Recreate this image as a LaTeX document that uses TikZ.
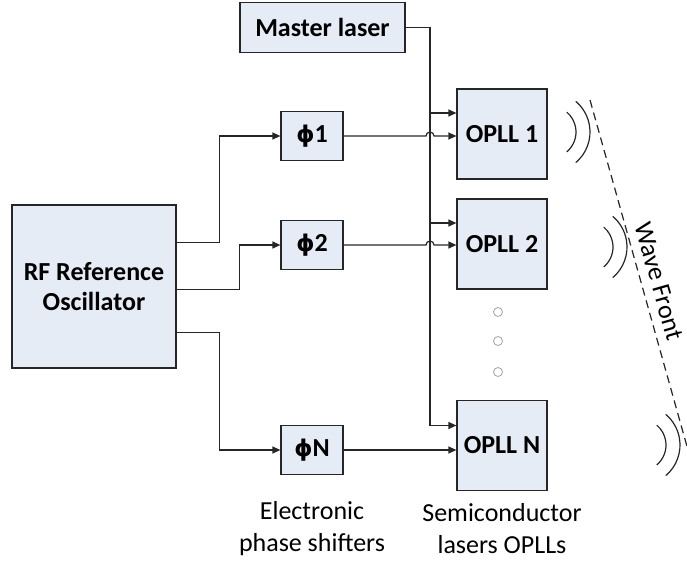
\documentclass[tikz,border=0pt]{standalone}
\usepackage{fontspec}
\setmainfont{Carlito}
\newfontfamily\phifont{DejaVu Sans}
\usetikzlibrary{arrows.meta, positioning, calc}

\begin{document}
\begin{tikzpicture}[
    x=1pt, y=-1pt,
    >={Triangle[length=8pt,width=7pt]},
]
\definecolor{boxFill}{HTML}{E6ECF6}
\definecolor{boxLine}{HTML}{262626}
\definecolor{dotGray}{HTML}{9EA3AA}

\tikzset{
    block/.style={
        rectangle, draw=boxLine, line width=1.2pt, fill=boxFill,
        inner sep=0pt, align=center, text=black,
        font=\fontsize{26}{30}\selectfont\bfseries,
    },
    shifter/.style={block, minimum width=62pt, minimum height=49pt},
    laser/.style={block, minimum width=90pt, minimum height=90pt},
    dot/.style={circle, draw=dotGray, line width=0.8pt, fill=white,
        minimum size=9pt, inner sep=0pt},
    caption/.style={align=center, font=\fontsize{26}{32}\selectfont},
    flow/.style={->, line width=1.2pt, draw=boxLine},
    wave/.style={line width=1.2pt, draw=boxLine},
    front/.style={line width=1.2pt, draw=boxLine, dash pattern=on 8pt off 5pt},
}

\useasboundingbox (0,0) rectangle (687,565);

% boxes
\node[block, minimum width=165pt, minimum height=50pt] (master) at (322.5,27.5) {Master laser};
\node[block, minimum width=164pt, minimum height=163pt] (rf) at (94,286.5) {RF Reference\\Oscillator};

\node[shifter] (phiA) at (312,136) {{\phifont\fontsize{23}{28}\selectfont ϕ}1};
\node[shifter] (phiB) at (312,245) {{\phifont\fontsize{23}{28}\selectfont ϕ}2};
\node[shifter] (phiN) at (312,450) {{\phifont\fontsize{23}{28}\selectfont ϕ}N};

\node[laser] (oplA) at (502,134) {OPLL 1};
\node[laser] (oplB) at (502,244) {OPLL 2};
\node[laser] (oplN) at (502,445.5) {OPLL N};

\node[dot] (dotA) at (498,312) {};
\node[dot] (dotB) at (498,341) {};
\node[dot] (dotC) at (498,372) {};

\node[caption] (capPhase) at (312,529) {Electronic\\phase shifters};
\node[caption] (capLaser) at (502,529) {Semiconductor\\lasers OPLLs};

% master laser bus
\coordinate (bus) at (430,0);
\coordinate (tapA) at ($(oplA.west)+(0,21pt)$);
\coordinate (tapB) at ($(oplB.west)+(0,21pt)$);
\coordinate (tapN) at ($(oplN.west)+(0,20pt)$);
\draw[flow] (master.east) -| (bus |- tapN) -- (tapN);
\draw[flow] (bus |- tapA) -- (tapA);
\draw[flow] (bus |- tapB) -- (tapB);

% RF reference to the phase shifters
\draw[flow] ([yshift=44pt]rf.east) -- ++(43,0) |- (phiA.west);
\draw[flow] ([yshift=-3pt]rf.east) -- ++(63,0) |- (phiB.west);
\draw[flow] ([yshift=-46pt]rf.east) -- ++(43,0) |- (phiN.west);

% phase shifters to the OPLLs (hop over the bus)
\draw[flow] (phiA.east) -- ($(phiA.east -| bus)+(-4pt,0)$)
    arc[start angle=180, end angle=0, radius=4pt] -- (phiA.east -| oplA.west);
\draw[flow] (phiB.east) -- ($(phiB.east -| bus)+(-4pt,0)$)
    arc[start angle=180, end angle=0, radius=4pt] -- (phiB.east -| oplB.west);
\draw[flow] (phiN.east) -- (phiN.east -| oplN.west);

% emitted waves and wave front
\foreach \cx/\cy in {550/132, 587/247, 640/445} {
    \draw[wave] (\cx,\cy) ++(-50:26pt) arc[start angle=-50, end angle=50, radius=26pt];
    \draw[wave] (\cx,\cy) ++(-50:40pt) arc[start angle=-50, end angle=50, radius=40pt];
}
\coordinate (frontTop) at (590,100);
\coordinate (frontEnd) at (688,450);
\draw[front] (frontTop) -- (frontEnd);
\node[caption, rotate=-74] (frontLabel) at (659,281) {Wave Front};

\end{tikzpicture}
\end{document}
